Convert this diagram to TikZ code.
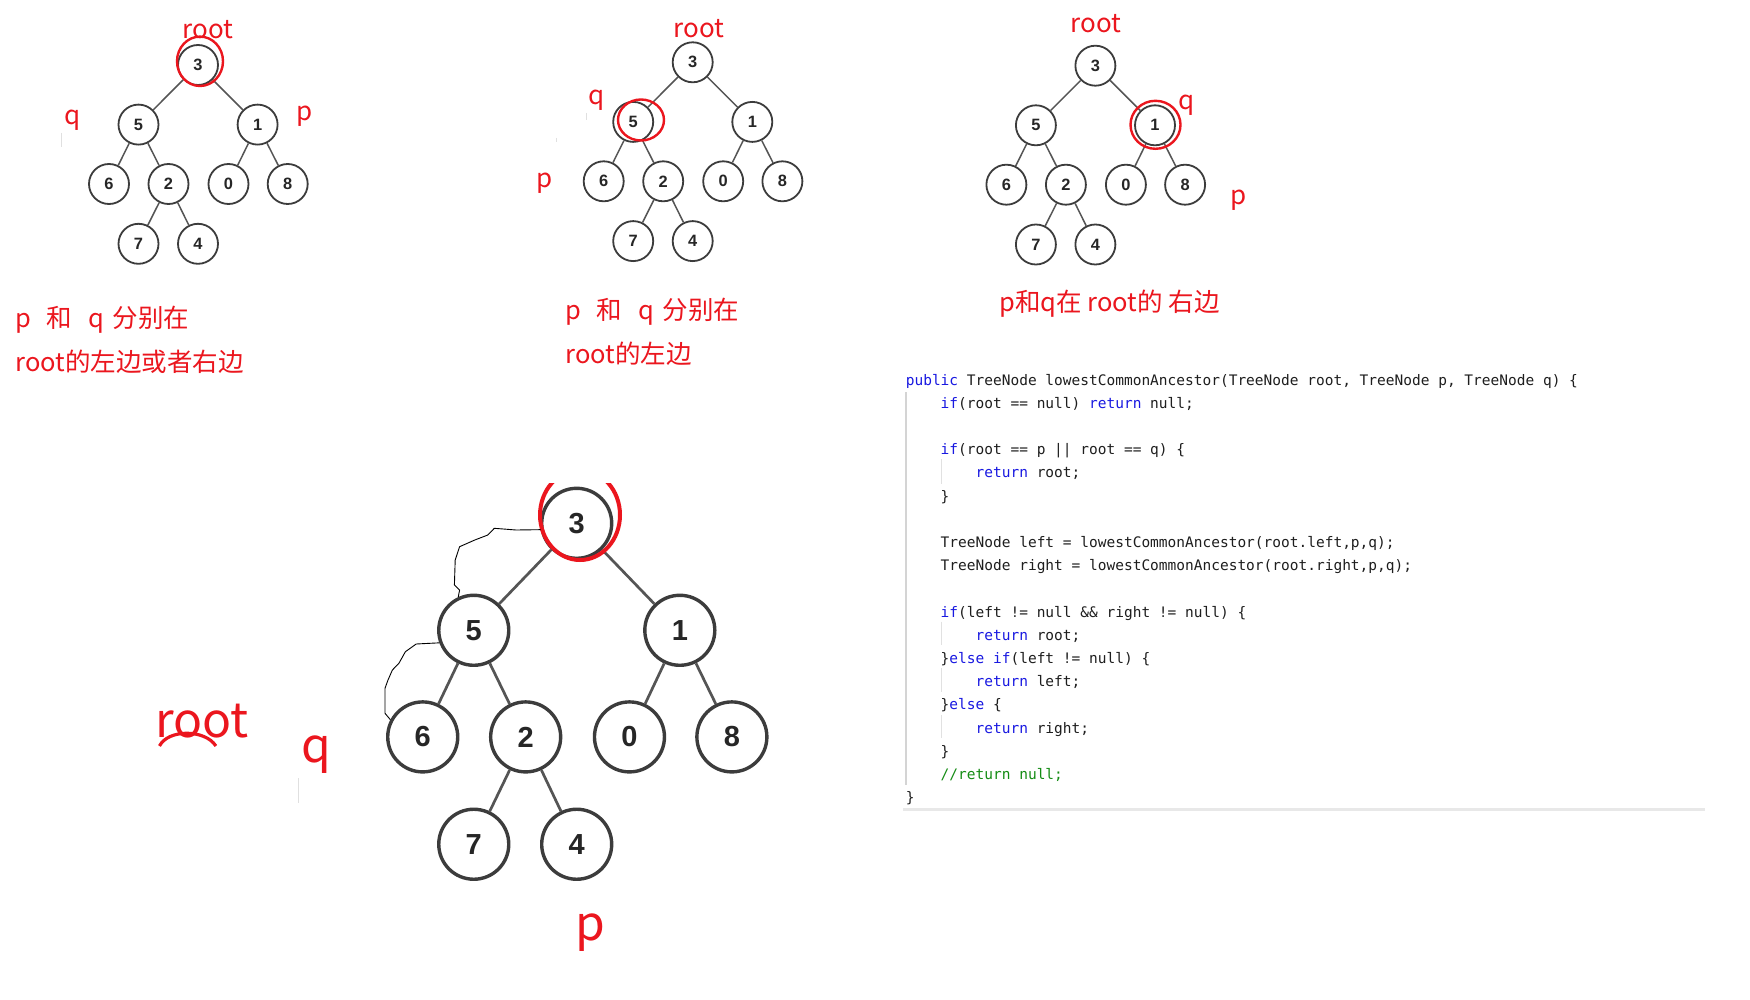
\documentclass[tikz,border=0pt]{standalone}
\usepackage{fontspec}
\newfontfamily\cjk{Noto Sans CJK SC}
\newfontfamily\numf{Liberation Sans}
\newfontfamily\codef{DejaVu Sans Mono}
\definecolor{redc}{RGB}{235,22,30}
\definecolor{nodec}{RGB}{60,60,60}
\definecolor{edgec}{RGB}{85,85,85}
\definecolor{kwc}{RGB}{25,25,225}
\definecolor{cmc}{RGB}{20,140,20}
\definecolor{codec}{RGB}{30,30,30}
\definecolor{guidec}{RGB}{212,212,212}
\tikzset{
 snode/.style={circle,draw=nodec,line width=0.9pt,fill=white,minimum size=20pt,inner sep=0pt,text=black!85,font=\numf\bfseries\fontsize{8.2pt}{9pt}\selectfont},
 bnode/.style={circle,draw=nodec,line width=1.7pt,fill=white,minimum size=35pt,inner sep=0pt,text=black!85,font=\numf\bfseries\fontsize{14.5pt}{16pt}\selectfont},
 sedge/.style={draw=edgec,line width=0.75pt},
 bedge/.style={draw=edgec,line width=1.35pt},
 lab/.style={text=redc,inner sep=0pt,font=\cjk\fontsize{13pt}{15pt}\selectfont},
 blab/.style={text=redc,inner sep=0pt,font=\cjk\fontsize{24pt}{28pt}\selectfont},
 cjkline/.style={text=redc,inner sep=0pt,anchor=west,font=\cjk\fontsize{12.75pt}{15pt}\selectfont},
 ring/.style={draw=redc,line width=1.2pt},
 codeline/.style={anchor=base west,inner sep=0pt,text=codec,font=\codef\fontsize{7.25pt}{8pt}\selectfont},
 hand/.style={draw=black,line width=0.45pt},
 artifact/.style={draw=black!12,line width=0.5pt},
}
\newcommand\lcatree[3]{%
 \node[#2] (#13) at (0,0) {3};
 \node[#2] (#15) at (-59.5,59.6) {5};
 \node[#2] (#11) at (59.6,59.6) {1};
 \node[#2] (#16) at (-89,119) {6};
 \node[#2] (#12) at (-29.5,119) {2};
 \node[#2] (#10) at (30.5,119) {0};
 \node[#2] (#18) at (89.7,119) {8};
 \node[#2] (#17) at (-59.5,178.8) {7};
 \node[#2] (#14) at (0,178.8) {4};
 \draw[#3] (#13) -- (#15);
 \draw[#3] (#13) -- (#11);
 \draw[#3] (#15) -- (#16);
 \draw[#3] (#15) -- (#12);
 \draw[#3] (#11) -- (#10);
 \draw[#3] (#11) -- (#18);
 \draw[#3] (#12) -- (#17);
 \draw[#3] (#12) -- (#14);
}
\newcommand\cl[4]{\node[codeline] (#1) at ({905.4+#2*8.73},{385+(#3-1)*23.2}) {#4};}
\begin{document}
\begin{tikzpicture}[x=0.5pt,y=-0.5pt]
\fill[white] (0,0) rectangle (1750,1000);
\useasboundingbox (0,0) rectangle (1750,1000);

% ---- tree 1
\begin{scope}[shift={(198,65)}]
 \lcatree{a}{snode}{sedge}
\end{scope}
\draw[ring] (200,61.3) ellipse [x radius=23, y radius=24.7];
\node[lab] (aroot) at (207.8,29.3) {root};
\node[lab] (aq) at (72.5,120) {q};
\node[lab] (ap) at (305,116.7) {p};
\node[cjkline] (at1) at (15,320) {p\hspace{7.8pt}和\hspace{8.3pt}q\hspace{4pt}分别在};
\node[cjkline] (at2) at (15,361.7) {root的左边或者右边};
\draw[artifact] (61,133) -- (61,147);

% ---- tree 2
\begin{scope}[shift={(692.7,62.3)}]
 \lcatree{b}{snode}{sedge}
\end{scope}
\draw[ring] (641,120) ellipse [x radius=23, y radius=20.5];
\node[lab] (broot) at (699,28.3) {root};
\node[lab] (bq) at (596.8,100) {q};
\node[lab] (bp) at (544.4,183.3) {p};
\node[cjkline] (bt1) at (565,311.7) {p\hspace{7.8pt}和\hspace{8.3pt}q\hspace{4pt}分别在};
\node[cjkline] (bt2) at (565,354) {root的左边};
\draw[artifact] (586.4,113) -- (586.4,120);
\draw[artifact] (556,138) -- (556,142);

% ---- tree 3
\begin{scope}[shift={(1095.4,65.7)}]
 \lcatree{c}{snode}{sedge}
\end{scope}
\draw[ring] (1155.5,124.8) ellipse [x radius=25, y radius=24];
\node[lab] (croot) at (1096,23.3) {root};
\node[lab] (cq) at (1187,105) {q};
\node[lab] (cp) at (1239,200) {p};
\node[cjkline] (ct1) at (999,304) {p和q在 root的 右边};

% ---- bottom tree
\begin{scope}[shift={(576.7,523.3)},xscale=1.73,yscale=1.795]
 \lcatree{d}{bnode}{bedge}
\end{scope}
\begin{scope}
 \clip (500,483) rectangle (660,590);
 \draw[redc,line width=2pt] (580,515) ellipse [x radius=40, y radius=45];
\end{scope}
\draw[hand] (d3.190) -- (516,530) -- (494.3,528.3) -- (487.8,535) -- (474.8,540) -- (459.6,546.7) -- (455.2,560) -- (454.4,585) -- (459.6,590) -- (d5.115);
\draw[hand] (d5.200) -- (416.2,644) -- (405.4,651.7) -- (398.9,663.3) -- (392.4,670) -- (388,680) -- (385,688.3) -- (385,713.3) -- (d6.152);
\node[blab] (droot) at (202,721) {root};
\draw[redc,line width=1.6pt] (159.5,746) .. controls (168,729) and (205,729) .. (215.9,746);
\node[blab] (dq) at (316.5,755) {q};
\node[blab] (dp) at (590.7,932.5) {p};
\draw[artifact] (298.3,778) -- (298.3,803);

% ---- code
\draw[guidec,line width=1pt] (906,392) -- (906,785);
\draw[guidec!70,line width=0.5pt] (941,459) -- (941,484);
\draw[guidec!70,line width=0.5pt] (941,621.7) -- (941,645);
\draw[guidec!70,line width=0.5pt] (941,668) -- (941,692);
\draw[guidec!70,line width=0.5pt] (941,715) -- (941,738);
\draw[black!9,line width=1.5pt] (903,809.5) -- (1705,809.5);
\cl{c1}{0}{1}{\textcolor{kwc}{public} TreeNode lowestCommonAncestor(TreeNode root, TreeNode p, TreeNode q) \{}
\cl{c2}{4}{2}{\textcolor{kwc}{if}(root == null) \textcolor{kwc}{return} null;}
\cl{c4}{4}{4}{\textcolor{kwc}{if}(root == p || root == q) \{}
\cl{c5}{8}{5}{\textcolor{kwc}{return} root;}
\cl{c6}{4}{6}{\}}
\cl{c8}{4}{8}{TreeNode left = lowestCommonAncestor(root.left,p,q);}
\cl{c9}{4}{9}{TreeNode right = lowestCommonAncestor(root.right,p,q);}
\cl{c11}{4}{11}{\textcolor{kwc}{if}(left != null \&\& right != null) \{}
\cl{c12}{8}{12}{\textcolor{kwc}{return} root;}
\cl{c13}{4}{13}{\}\textcolor{kwc}{else if}(left != null) \{}
\cl{c14}{8}{14}{\textcolor{kwc}{return} left;}
\cl{c15}{4}{15}{\}\textcolor{kwc}{else} \{}
\cl{c16}{8}{16}{\textcolor{kwc}{return} right;}
\cl{c17}{4}{17}{\}}
\cl{c18}{4}{18}{\textcolor{cmc}{//return null;}}
\cl{c19}{0}{19}{\}}
\end{tikzpicture}
\end{document}
